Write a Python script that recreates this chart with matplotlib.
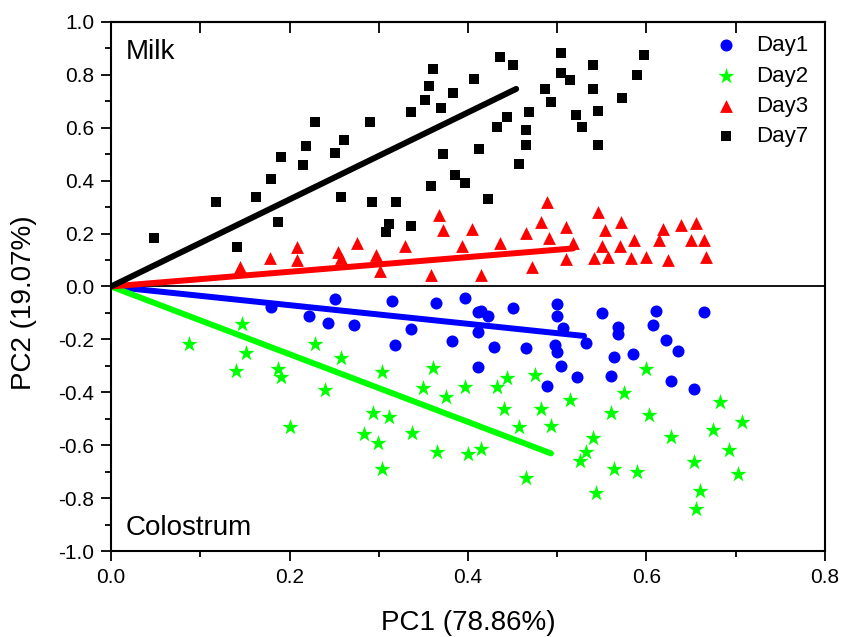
import matplotlib
matplotlib.use("Agg")
import matplotlib.pyplot as plt
from matplotlib.ticker import MultipleLocator

plt.rcParams['font.family'] = ['Liberation Sans', 'DejaVu Sans']

# PCA scores
day1_x = [0.179, 0.222, 0.243, 0.251, 0.272, 0.315, 0.318, 0.336, 0.364, 0.382,
          0.397, 0.411, 0.411, 0.411, 0.415, 0.422, 0.429, 0.450, 0.465, 0.489,
          0.497, 0.500, 0.500, 0.500, 0.504, 0.507, 0.522, 0.532, 0.550, 0.560,
          0.564, 0.568, 0.568, 0.585, 0.607, 0.611, 0.622, 0.628, 0.635, 0.653, 0.664]
day1_y = [-0.076, -0.112, -0.139, -0.048, -0.146, -0.054, -0.222, -0.161, -0.064, -0.207,
          -0.043, -0.095, -0.173, -0.305, -0.091, -0.110, -0.227, -0.083, -0.232, -0.377,
          -0.221, -0.246, -0.067, -0.110, -0.301, -0.158, -0.343, -0.212, -0.101, -0.338,
          -0.267, -0.153, -0.180, -0.256, -0.146, -0.091, -0.203, -0.357, -0.243, -0.386, -0.098]

day2_x = [0.087, 0.147, 0.151, 0.140, 0.187, 0.190, 0.201, 0.229, 0.240, 0.258,
          0.283, 0.293, 0.299, 0.304, 0.304, 0.311, 0.337, 0.350, 0.361, 0.365,
          0.375, 0.397, 0.400, 0.415, 0.432, 0.444, 0.440, 0.457, 0.465, 0.475,
          0.482, 0.493, 0.514, 0.525, 0.532, 0.540, 0.543, 0.560, 0.564, 0.575,
          0.589, 0.600, 0.603, 0.628, 0.653, 0.660, 0.656, 0.675, 0.682, 0.692,
          0.703, 0.707]
day2_y = [-0.217, -0.141, -0.250, -0.318, -0.313, -0.343, -0.530, -0.217, -0.391, -0.271,
          -0.559, -0.477, -0.593, -0.322, -0.690, -0.492, -0.555, -0.385, -0.309, -0.624,
          -0.419, -0.381, -0.633, -0.614, -0.379, -0.347, -0.463, -0.530, -0.725, -0.335,
          -0.463, -0.526, -0.429, -0.660, -0.627, -0.574, -0.782, -0.477, -0.690, -0.401,
          -0.700, -0.312, -0.486, -0.568, -0.662, -0.772, -0.840, -0.543, -0.436, -0.618,
          -0.710, -0.511]

day3_x = [0.144, 0.178, 0.208, 0.208, 0.254, 0.258, 0.276, 0.297, 0.301, 0.329,
          0.358, 0.368, 0.372, 0.393, 0.404, 0.415, 0.436, 0.465, 0.472, 0.482,
          0.489, 0.491, 0.510, 0.510, 0.518, 0.541, 0.546, 0.553, 0.550, 0.557,
          0.571, 0.570, 0.583, 0.586, 0.600, 0.614, 0.618, 0.624, 0.639, 0.650,
          0.656, 0.665, 0.667]
day3_y = [0.073, 0.107, 0.148, 0.100, 0.129, 0.107, 0.163, 0.119, 0.060, 0.153,
          0.042, 0.270, 0.214, 0.153, 0.217, 0.045, 0.163, 0.204, 0.075, 0.244,
          0.321, 0.182, 0.226, 0.103, 0.163, 0.107, 0.283, 0.214, 0.153, 0.110,
          0.243, 0.153, 0.107, 0.176, 0.113, 0.176, 0.216, 0.100, 0.231, 0.176,
          0.239, 0.176, 0.113]

day7_x = [0.048, 0.118, 0.141, 0.162, 0.179, 0.187, 0.190, 0.215, 0.219, 0.229,
          0.251, 0.258, 0.261, 0.290, 0.292, 0.308, 0.312, 0.319, 0.336, 0.336,
          0.352, 0.356, 0.361, 0.358, 0.370, 0.372, 0.383, 0.386, 0.397, 0.407,
          0.412, 0.436, 0.450, 0.422, 0.432, 0.444, 0.457, 0.465, 0.465, 0.468,
          0.486, 0.493, 0.504, 0.504, 0.514, 0.521, 0.528, 0.540, 0.540, 0.546,
          0.546, 0.573, 0.589, 0.597]
day7_y = [0.182, 0.318, 0.148, 0.337, 0.405, 0.245, 0.491, 0.458, 0.530, 0.621,
          0.506, 0.337, 0.554, 0.621, 0.318, 0.207, 0.235, 0.318, 0.659, 0.230,
          0.704, 0.759, 0.823, 0.381, 0.674, 0.501, 0.732, 0.420, 0.390, 0.785,
          0.520, 0.867, 0.837, 0.331, 0.602, 0.640, 0.462, 0.593, 0.535, 0.659,
          0.745, 0.698, 0.882, 0.806, 0.781, 0.650, 0.602, 0.837, 0.745, 0.665,
          0.535, 0.713, 0.800, 0.876]

# end points of the loading lines (they start at the origin)
line_end = {'Day1': (0.530, -0.187), 'Day2': (0.493, -0.631),
            'Day3': (0.518, 0.144), 'Day7': (0.454, 0.747)}

fig = plt.figure(figsize=(8.43, 6.37), dpi=100)
ax = fig.add_axes([0.1317, 0.135, 0.8469, 0.8305])

ax.axhline(0, color='black', lw=1.3, zorder=1)

ax.scatter(day1_x, day1_y, marker='o', s=75, color='#0000ff', lw=0, label='Day1', zorder=3)
ax.scatter(day2_x, day2_y, marker='*', s=150, color='#00ff00', lw=0, label='Day2', zorder=3)
ax.scatter(day3_x, day3_y, marker='^', s=85, color='#ff0000', lw=0, label='Day3', zorder=3)
ax.scatter(day7_x, day7_y, marker='s', s=48, color='black', lw=0, label='Day7', zorder=3)

cores = {'Day1': '#0000ff', 'Day2': '#00ff00', 'Day3': '#ff0000', 'Day7': 'black'}
for nome, (xe, ye) in line_end.items():
    ax.plot([0, xe], [0, ye], color=cores[nome], lw=4.3, solid_capstyle='round', zorder=2)

ax.set_xlim(0, 0.8)
ax.set_ylim(-1.0, 1.0)
ax.xaxis.set_major_locator(MultipleLocator(0.2))
ax.xaxis.set_minor_locator(MultipleLocator(0.1))
ax.yaxis.set_major_locator(MultipleLocator(0.2))
ax.yaxis.set_minor_locator(MultipleLocator(0.1))
ax.xaxis.set_major_formatter(lambda v, p: f"{v:.1f}")
ax.yaxis.set_major_formatter(lambda v, p: f"{v:.1f}")
ax.tick_params(which='major', direction='out', length=7, width=1.3, labelsize=15, pad=5)
ax.tick_params(which='minor', direction='out', length=4, width=1.3)

# ticks on top pointing inward, no labels
top = ax.secondary_xaxis('top')
top.xaxis.set_major_locator(MultipleLocator(0.1))
top.tick_params(direction='in', length=8, width=1.3, labeltop=False)
top.spines['top'].set_linewidth(1.5)

for s in ax.spines.values():
    s.set_linewidth(1.5)

ax.set_xlabel('PC1 (78.86%)', fontsize=20, va='bottom')
ax.set_ylabel('PC2 (19.07%)', fontsize=20)
ax.xaxis.set_label_coords(0.5, -0.16)
ax.yaxis.set_label_coords(-0.103, 0.47)

ax.text(0.02, 0.93, 'Milk', transform=ax.transAxes, fontsize=20)
ax.text(0.02, 0.03, 'Colostrum', transform=ax.transAxes, fontsize=20)

ax.legend(loc='upper right', bbox_to_anchor=(0.995, 1.0), frameon=False, fontsize=16,
          handletextpad=0.35, labelspacing=0.42, borderaxespad=0.2, scatterpoints=1)

fig.savefig('out.png', dpi=100)
